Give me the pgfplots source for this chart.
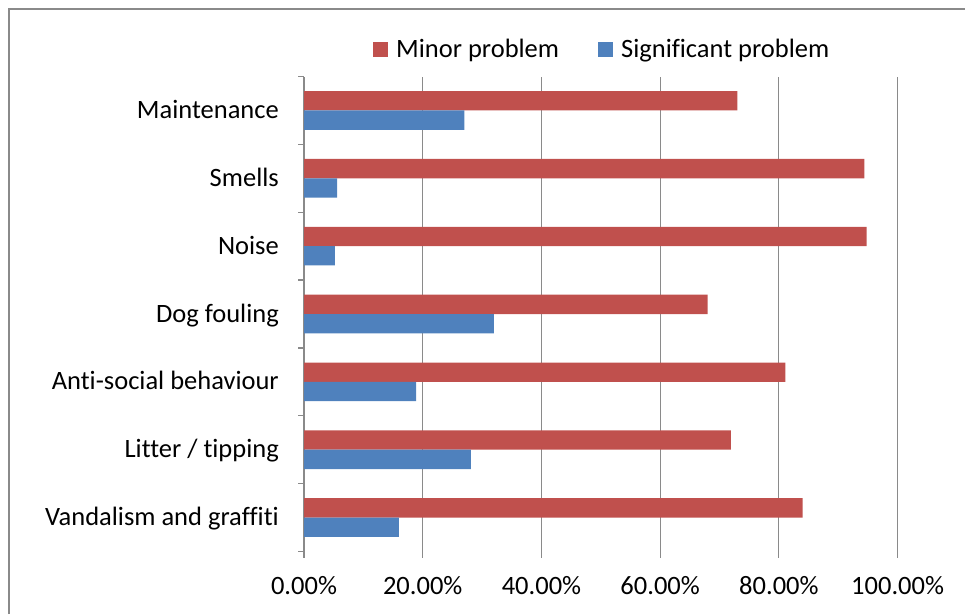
\documentclass[border=0pt]{standalone}
\usepackage{pgfplots}
\pgfplotsset{compat=1.18}
\usepackage{fontspec}
\setmainfont{Carlito}[Ligatures=NoCommon]
\definecolor{minorred}{HTML}{C0504D}
\definecolor{sigblue}{HTML}{4F81BD}
\definecolor{gridgray}{HTML}{8A8A8A}
\begin{document}
\fontsize{26.5pt}{31pt}\selectfont
\begin{tikzpicture}
\useasboundingbox (0,0) rectangle (965pt,614pt);
% chart frame (cut off at right and bottom)
\draw[gridgray, line width=1.2pt] (9pt,0pt) -- (9pt,605pt) -- (965pt,605pt);
\begin{axis}[
    at={(304pt,62.5pt)}, anchor=south west,
    scale only axis,
    width=593.6pt, height=475pt,
    xmin=0, xmax=100,
    ymin=-0.5, ymax=6.5,
    xbar, bar width=0.285,
    axis y line*=left, axis x line*=bottom,
    x axis line style={draw=none},
    y axis line style={draw=gridgray, line width=1.2pt, -},
    xtick={0,20,40,60,80,100},
    xticklabels={0.00\%,20.00\%,40.00\%,60.00\%,80.00\%,100.00\%},
    xmajorgrids,
    grid style={draw=gridgray, line width=1.2pt},
    tick align=outside,
    major tick length=6pt, minor tick length=6pt,
    xtick style={draw=gridgray, line width=1.2pt},
    ytick={0,...,6},
    yticklabels={Vandalism and graffiti, Litter / tipping, Anti-social behaviour,
        Dog fouling, Noise, Smells, Maintenance},
    major y tick style={draw=none},
    minor ytick={-0.5,0.5,...,6.5},
    minor y tick style={draw=gridgray, line width=1.2pt},
    xticklabel style={anchor=base, inner sep=0pt, yshift=-37pt},
    yticklabel style={anchor=base east, inner sep=0pt, xshift=-19pt, yshift=-8pt},
    legend columns=2,
    legend style={
        at={(rel axis cs:0.5008,1.056)}, anchor=center,
        draw=none, fill=none, inner sep=0pt,
        nodes={inner sep=0pt},
        /tikz/every even column/.append style={column sep=39pt},
    },
    legend image code/.code={
        \fill[#1] (0pt,-7.5pt) rectangle (15pt,7.5pt);
        \path (23pt,0pt);
    },
]
\addplot[fill=minorred, draw=none, bar shift=0.1425] coordinates {
    (84.0,0) (71.9,1) (81.1,2) (68.0,3) (94.8,4) (94.4,5) (73.0,6)
};
\addlegendentry{Minor problem}
\addplot[fill=sigblue, draw=none, bar shift=-0.1425] coordinates {
    (16.0,0) (28.1,1) (18.9,2) (32.0,3) (5.2,4) (5.6,5) (27.0,6)
};
\addlegendentry{Significant problem}
\end{axis}
\end{tikzpicture}
\end{document}
